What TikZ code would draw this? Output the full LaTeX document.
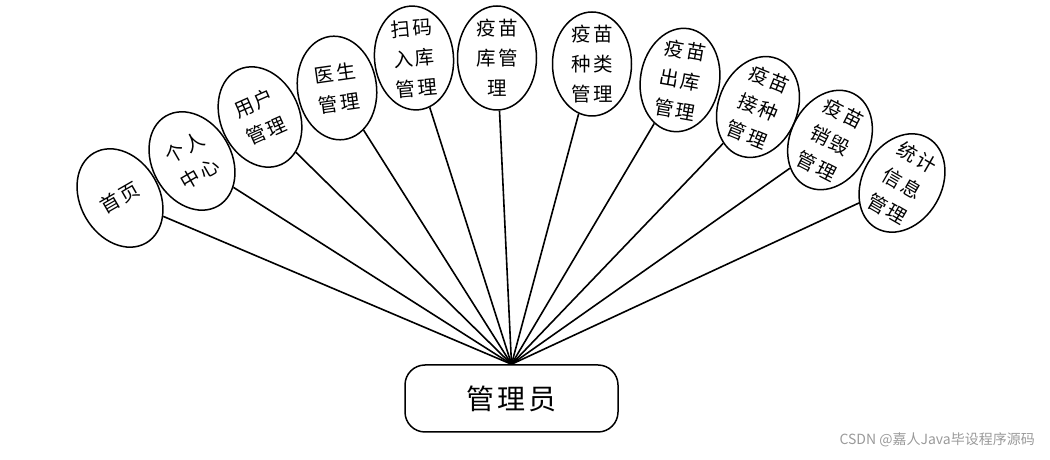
\documentclass[tikz,border=0pt]{standalone}
\usepackage{fontspec}
\setmainfont{Liberation Serif}
\newfontfamily\cjk{Noto Sans CJK SC}
\newfontfamily\cjkwide[LetterSpace=12]{Noto Sans CJK SC}
\usetikzlibrary{shapes.geometric}
\definecolor{markgray}{HTML}{9A9A9A}
\tikzset{
  func/.style={
    draw,
    ellipse,
    line width=1.5pt,
    inner sep=-4pt,
    minimum width=79pt,
    minimum height=104pt,
    align=center,
    font=\cjkwide\fontsize{19.5}{30}\selectfont,
  },
  role/.style={
    draw,
    rounded corners=20pt,
    line width=1.5pt,
    minimum width=213pt,
    minimum height=67pt,
    font=\cjkwide\fontsize{28}{30}\selectfont,
  },
  link/.style={line width=1.6pt},
  wmark/.style={font=\cjk\fontsize{14}{16}\selectfont, text=markgray, inner sep=0pt},
}

\begin{document}
\begin{tikzpicture}[x=1pt, y=1pt]
\useasboundingbox (0,0) rectangle (1050,460);

% role
\node[role] (adm) at (511.5,61.5) {管理员};

% functions, left to right
\node[func, rotate=30]  (e01) at (120,262) {首页};
\node[func, rotate=30]  (e02) at (192,299) {个人\\中心};
\node[func, rotate=24]  (e03) at (260,343) {用户\\管理};
\node[func, rotate=8]   (e04) at (337,372) {医生\\管理};
\node[func, rotate=5]   (e05) at (414,402) {扫码\\入库\\管理};
\node[func]             (e06) at (497,402) {疫苗\\库管\\理};
\node[func]             (e07) at (592,396) {疫苗\\种类\\管理};
\node[func, rotate=-10] (e08) at (680,380) {疫苗\\出库\\管理};
\node[func, rotate=-22] (e09) at (758,353) {疫苗\\接种\\管理};
\node[func, rotate=-27] (e10) at (830,320) {疫苗\\销毁\\管理};
\node[func, rotate=-30] (e11) at (902,277) {统计\\信息\\管理};

% links
\foreach \n in {e01,e02,e03,e04,e05,e06,e07,e08,e09,e10,e11}
  {\draw[link] (adm.north) -- (\n);}

% watermark
\node[wmark, anchor=east] (wm) at (1035,20) {CSDN @嘉人Java毕设程序源码};

\end{tikzpicture}
\end{document}
